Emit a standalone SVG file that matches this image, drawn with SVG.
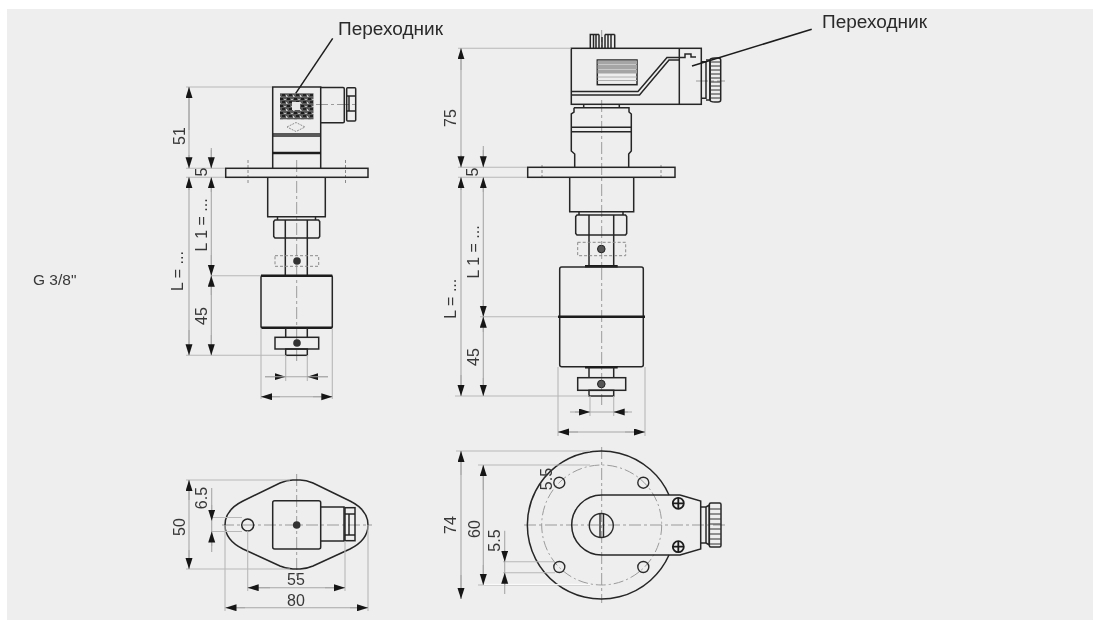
<svg xmlns="http://www.w3.org/2000/svg" width="1093" height="620" viewBox="0 0 1093 620">
<style>
.o{fill:none;stroke:#262626;stroke-width:1.500}
.t{fill:none;stroke:#1c1c1c;stroke-width:2.600}
.c{fill:none;stroke:#9a9a9a;stroke-width:1;stroke-dasharray:12 3 3 3}
.h{fill:none;stroke:#8a8a8a;stroke-width:1;stroke-dasharray:3 2}
.e{fill:none;stroke:#b8b8b8;stroke-width:1.100}
.d{fill:none;stroke:#a8a8a8;stroke-width:1.100}
.a{fill:none;stroke:#a8a8a8;stroke-width:1.100;marker-end:url(#ar)}
.l{fill:none;stroke:#1c1c1c;stroke-width:1.500}
text{font-family:"Liberation Sans",Arial,sans-serif;fill:#383838}
.n{font-size:16px}
.lab{font-size:17.500px;fill:#2a2a2a}
</style>
<defs>
<marker id="ar" markerUnits="userSpaceOnUse" markerWidth="12" markerHeight="8" refX="11" refY="3.500" orient="auto"><path d="M0,0L11,3.500L0,7Z" fill="#161616"/></marker>
<pattern id="noise" width="7" height="7" patternUnits="userSpaceOnUse">
<rect width="7" height="7" fill="#5a5a5a"/>
<rect x="0" y="0" width="3" height="2" fill="#1c1c1c"/><rect x="4" y="1" width="2" height="1" fill="#bbb"/><rect x="2" y="3" width="3" height="2" fill="#222"/><rect x="6" y="4" width="1" height="2" fill="#ccc"/><rect x="0" y="5" width="1" height="1" fill="#aaa"/>
</pattern>
<filter id="soft" x="0" y="0" width="100%" height="100%"><feGaussianBlur stdDeviation="0.45"/></filter>
</defs>
<rect width="1093" height="620" fill="#fff"/>
<rect x="7" y="9" width="1086" height="611" fill="#eeeeee"/>

<g id="drawing" filter="url(#soft)">
<g id="view-left-side">
<path class="c" d="M296.700 160V362"/>
<path class="h" d="M248 160V184M345.500 160V184"/>
<path class="c" d="M316 104.500H358"/>
<path class="o" d="M272.700 168V87H320.700V168"/>
<path class="o" d="M320.700 87.500H343Q344.300 87.500 344.300 89V121.500Q344.300 122.700 343 122.700H320.700"/>
<rect class="o" x="346.700" y="87.700" width="9" height="33.300" rx="1"/>
<path class="o" d="M346.700 96H355.700M346.700 111H355.700M349 96V111"/>
<rect x="280" y="93.300" width="33.500" height="26" fill="url(#noise)"/>
<rect x="292" y="102" width="8" height="8" fill="#e8e8e8"/>
<path d="M287 127L296 122.500L305 127L296 131.500Z" fill="none" stroke="#8f8f8f" stroke-width="1" stroke-dasharray="2 1"/>
<path class="o" d="M272.700 134H320.700"/><path class="o" d="M272.700 136H320.700"/>
<path class="t" d="M272.700 153H320.700"/>
<rect class="o" x="225.700" y="168.300" width="142.300" height="9"/>
<path class="o" d="M267.700 177.300V216.700H325.300V177.300"/>
<path class="o" d="M277.500 216.700V220M315.500 216.700V220"/>
<path class="o" d="M275 220H318.500L319.700 221.500V236.500L318.500 238H275L273.700 236.500V221.500Z"/>
<path class="o" d="M285.300 220V275.700M307.300 220V275.700"/>
<rect class="h" x="275" y="255.700" width="43.700" height="10.600"/>
<circle cx="297" cy="261" r="3.800" fill="#333"/>
<rect x="261" y="275.700" width="71.300" height="52" rx="1" fill="none" stroke="#262626" stroke-width="1.500"/>
<path class="t" d="M261 275.700H332.300M261 327.700H332.300"/>
<path class="o" d="M285.700 327.700V337.300M307.300 327.700V337.300"/>
<rect class="o" x="275" y="337.300" width="43.700" height="11.700"/>
<rect class="o" x="285.700" y="349" width="21.600" height="6.300"/>
<circle cx="297" cy="343" r="3.800" fill="#333"/>
</g>

<g id="view-left-top">
<path class="c" d="M296.700 474V576M222 525H372"/>
<path class="o" d="M225 525C225 514 233 506 243 501L280 483Q287 480 293 480H300Q306 480 313 483L350 501C360 506 368 514 368 525C368 536 360 544 350 549L313 566Q306 569 300 569H293Q287 569 280 566L243 549C233 544 225 536 225 525Z"/>
<rect class="o" x="272.700" y="500.700" width="48" height="48.300" rx="2"/>
<path class="o" d="M320.700 507H344V541H320.700"/>
<rect class="o" x="345" y="507.700" width="10" height="33"/>
<path class="o" d="M345 514H355M345 535H355M349 514V535"/>
<circle class="o" cx="247.700" cy="525" r="6"/>
<circle cx="296.700" cy="525" r="3.800" fill="#333"/>
</g>

<g id="view-right-side">
<path class="c" d="M601.700 30V48M601.700 100V405"/>
<path class="h" d="M542 165V180M661 165V180"/>
<path class="c" d="M696 81H725"/>
<path class="o" d="M590.300 48V34.500H599M599 48V34.500M593.500 34.500V48M596 34.500V48M602 37V48M605 34.500V48M608 34.500V48M611 34.500V48M614.700 34.500V48M605 34.500H614.700"/>
<rect class="o" x="571.300" y="48.300" width="130" height="56"/>
<path class="o" d="M679.300 48.300V104.300"/>
<rect class="o" x="597.300" y="60" width="39.700" height="24.700"/>
<path fill="none" stroke="#a5a5a5" stroke-width="4" d="M597.500 62.500H637M597.500 67H637M597.500 71.500H637"/>
<path fill="none" stroke="#b0b0b0" stroke-width="1" d="M597.500 77H637M597.500 80.500H637"/>
<path class="o" d="M571.300 91.500H638L667 57.500H679.300H685V54H691V57H696"/>
<path class="o" d="M571.300 95H639.500L669 60H679.300"/>
<path class="o" d="M701.300 61.700H706V98.300H701.300"/>
<path class="o" d="M706 60H710V100H706"/>
<path class="o" d="M710 60Q710 58 715 58H718Q720.700 58 720.700 60V100Q720.700 102 718 102H715Q710 102 710 100Z"/>
<path d="M710.500 62H720.500M710.500 66H720.500M710.500 70H720.500M710.500 74H720.500M710.500 78H720.500M710.500 82H720.500M710.500 86H720.500M710.500 90H720.500M710.500 94H720.500M710.500 98H720.500" fill="none" stroke="#333" stroke-width="1"/>
<path class="o" d="M583.700 104.300V107.700M619.300 104.300V107.700"/>
<path class="o" d="M574 107.700H629V112L631.300 114V151L628.700 154V167.300M574 107.700V112L571.300 114V151L574.700 154V167.300"/>
<path class="o" d="M571.300 127.300H631.300M571.300 131.700H631.300"/>
<rect class="o" x="527.700" y="167.300" width="147.300" height="10"/>
<path class="o" d="M569.700 177.300V211.700H633.700V177.300"/>
<path class="o" d="M579 211.700V215M623 211.700V215"/>
<path class="o" d="M577 215H625.500L626.700 216.500V233.500L625.500 235H577L575.700 233.500V216.500Z"/>
<path class="o" d="M589 215V265.700M613.700 215V265.700"/>
<rect class="h" x="577.700" y="242.300" width="48" height="13.400"/>
<circle cx="601.300" cy="249" r="3.800" fill="#555" stroke="#222"/>
<path class="t" d="M585 266.200H617.700"/>
<rect x="559.700" y="267" width="83.600" height="99.700" rx="2" fill="none" stroke="#262626" stroke-width="1.500"/>
<path class="t" d="M558 316.700H645"/>
<path class="t" d="M585 367.300H617.700"/>
<path class="o" d="M589 367.300V377.700M613.700 367.300V377.700"/>
<rect class="o" x="577.700" y="377.700" width="48" height="12.600"/>
<rect class="o" x="589" y="390.300" width="24.700" height="5.700"/>
<circle cx="601.300" cy="384" r="3.800" fill="#555" stroke="#222"/>
</g>

<g id="view-right-top">
<path class="c" d="M601.700 447V603M524 525H725"/>
<circle fill="none" stroke="#9a9a9a" stroke-width="1" stroke-dasharray="10 3 2 3" cx="601.700" cy="525" r="60"/>
<path class="o" d="M669 495A74 74 0 1 0 669 555"/>
<path class="o" d="M680 495H601.700A30 30 0 0 0 601.700 555H680L700.700 549V501L680 495"/>
<g fill="none" stroke="#2c2c2c" stroke-width="1.400">
<circle cx="559.300" cy="482.700" r="5.500"/><circle cx="643.300" cy="482.700" r="5.500"/>
<circle cx="559.300" cy="567" r="5.500"/><circle cx="643.300" cy="567" r="5.500"/>
<circle cx="601.300" cy="525.500" r="12"/>
<path d="M600 514V537M603.500 514V537"/>
</g>
<g fill="none" stroke="#1c1c1c" stroke-width="1.800">
<circle cx="678.300" cy="503.300" r="5.500"/><path d="M672.800 503.300H683.800M678.300 497.800V508.800"/>
<circle cx="678.300" cy="546.700" r="5.500"/><path d="M672.800 546.700H683.800M678.300 541.200V552.200"/>
</g>
<path class="o" d="M700.700 507H706V543H700.700M706 507L709.300 505V545L706 543"/>
<rect class="o" x="709.300" y="503" width="11.700" height="44" rx="1.500"/>
<path d="M709.500 509H721M709.500 514H721M709.500 519H721M709.500 524H721M709.500 529H721M709.500 534H721M709.500 539H721M709.500 544H721" fill="none" stroke="#333" stroke-width="1"/>
</g>

<g id="leaders">
<path class="l" d="M295.700 93.300L332.700 38.300"/>
<path class="l" d="M692 66L811.700 29.300"/>
</g>

<g id="dimensions">
<path class="e" d="M186 87H272M186 168.300H225M186 177.300H225M211 275.700H261M186 355.300H285"/>
<path class="e" d="M261 328V399M332.300 328V399M285.700 355V381M307.300 355V381"/>
<path class="e" d="M186 480H290M186 569H290M211 517.500H242M211 531.500H242M225 525V611M368 525V611M247.700 531V591M345 541V591"/>
<path class="e" d="M458 48.300H571M458 167.300H527M458 177.300H527M480 316.700H558M455 396H589"/>
<path class="e" d="M558 367V436M645 367V436M590 396V416M613.700 396V416"/>
<path class="e" d="M456 451H590M478 465H590M478 585H590M503 561.700H555M503 572.700H555"/>
<path d="M484 584.400H590" stroke="#fff" stroke-width="1"/>

<path class="d" d="M189 87V168M189 177.300V355M211.300 158V168M211.300 177.300V275.700M211.300 275.700V355"/>
<path class="a" d="M189 130V87"/><path class="a" d="M189 155V168.300"/><path class="a" d="M189 190V177.300"/>
<path class="a" d="M189 330V355.300"/>
<path class="d" d="M211.300 148V168"/>
<path class="a" d="M211.300 150V168.300"/><path class="a" d="M211.300 192V177.300"/>
<path class="a" d="M211.300 255V275.700"/><path class="a" d="M211.300 295V275.700"/><path class="a" d="M211.300 335V355.300"/>
<path class="a" d="M265 376.700H285.700"/><path class="a" d="M328 376.700H307.300"/>
<path class="d" d="M265 376.700H328"/>
<path class="d" d="M261 396.700H332"/>
<path class="a" d="M280 396.700H261"/><path class="a" d="M313 396.700H332.300"/>

<path class="d" d="M189 480V569M211.700 488V552"/>
<path class="a" d="M189 500V480"/><path class="a" d="M189 550V569"/>
<path class="a" d="M211.700 505V520.700"/><path class="a" d="M211.700 546V531.500"/>
<path class="d" d="M247.700 587.700H345M225.500 607.700H368"/>
<path class="a" d="M270 587.700H247.700"/><path class="a" d="M325 587.700H345"/>
<path class="a" d="M245 607.700H225.500"/><path class="a" d="M350 607.700H368"/>

<path class="d" d="M461 48.300V167.300M461 177.300V396M483.300 146V167.300M483.300 177.300V396"/>
<path class="a" d="M461 70V48.300"/><path class="a" d="M461 155V167.300"/><path class="a" d="M461 190V177.300"/><path class="a" d="M461 375V396"/>
<path class="a" d="M483.300 150V167.300"/><path class="a" d="M483.300 192V177.300"/>
<path class="a" d="M483.300 300V316.700"/><path class="a" d="M483.300 332V316.700"/><path class="a" d="M483.300 378V396"/>
<path class="d" d="M570 412H632M558 432H645"/>
<path class="a" d="M575 412H590"/><path class="a" d="M628 412H613.700"/>
<path class="a" d="M578 432H558"/><path class="a" d="M625 432H645"/>

<path class="d" d="M461 451V599M483.300 465V585M504.700 530.700V594"/>
<path class="a" d="M461 475V451"/><path class="a" d="M461 575V599"/>
<path class="a" d="M483.300 490V465"/><path class="a" d="M483.300 565V585"/>
<path class="a" d="M504.700 550V561.700"/><path class="a" d="M504.700 585V572.700"/>
</g>

<g id="labels">
<text class="lab" x="338" y="35" textLength="105" lengthAdjust="spacingAndGlyphs">Переходник</text>
<text class="lab" x="822" y="27.500" textLength="105" lengthAdjust="spacingAndGlyphs">Переходник</text>
<text x="33" y="284.500" style="font-size:15.500px">G 3/8"</text>
<g text-anchor="middle">
<text class="n" transform="translate(184.500,136) rotate(-90)">51</text>
<text class="n" transform="translate(206.700,172) rotate(-90)">5</text>
<text class="n" transform="translate(207.300,225) rotate(-90)">L 1 = ...</text>
<text class="n" transform="translate(183.300,271) rotate(-90)">L = ...</text>
<text class="n" transform="translate(207.300,316) rotate(-90)">45</text>
<text class="n" transform="translate(185,527) rotate(-90)">50</text>
<text class="n" transform="translate(206.700,498) rotate(-90)">6.5</text>
<text class="n" x="296" y="585">55</text>
<text class="n" x="296" y="605.700">80</text>
<text class="n" transform="translate(456,118) rotate(-90)">75</text>
<text class="n" transform="translate(478.300,172) rotate(-90)">5</text>
<text class="n" transform="translate(479,252) rotate(-90)">L 1 = ...</text>
<text class="n" transform="translate(456,298.700) rotate(-90)">L = ...</text>
<text class="n" transform="translate(479,357) rotate(-90)">45</text>
<text class="n" transform="translate(456,525) rotate(-90)">74</text>
<text class="n" transform="translate(480,529) rotate(-90)">60</text>
<text class="n" transform="translate(500,540.500) rotate(-90)">5.5</text>
<text class="n" transform="translate(551.700,479) rotate(-90)">5.5</text>
</g>
</g>
</g>
</svg>
